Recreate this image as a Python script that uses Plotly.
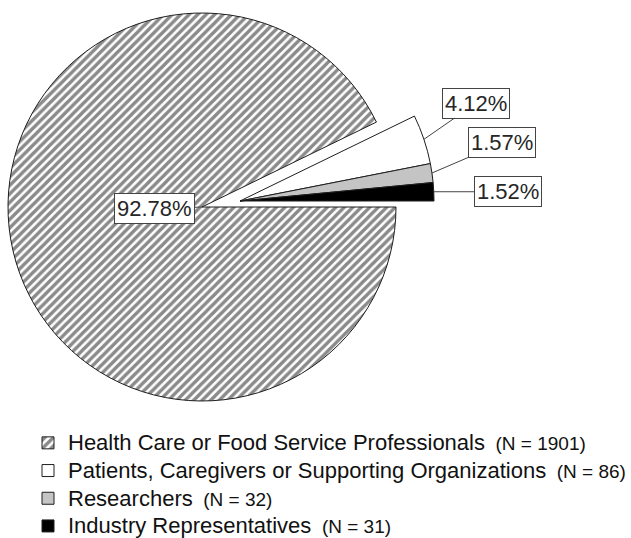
import math
import plotly.graph_objects as go

# ---- data ----
categories = [
    "Health Care or Food Service Professionals",
    "Patients, Caregivers or Supporting Organizations",
    "Researchers",
    "Industry Representatives",
]
counts = [1901, 86, 32, 31]
percents = [92.78, 4.12, 1.57, 1.52]

# ---- styles ----
W, H = 631, 538
CX, CY, R = 202, 207, 194          # pie centre / radius (px)
EXP_DX, EXP_DY = 38, -6            # offset of the exploded small slices (px)
colors = ["#ffffff", "#ffffff", "#c4c4c4", "#000000"]
FONT = "Liberation Sans, Arial, sans-serif"
EDGE = "#1e1e1e"


def domain(cx, cy, r):
    return dict(x=[(cx - r) / W, (cx + r) / W],
                y=[1 - (cy + r) / H, 1 - (cy - r) / H])


transparent = "rgba(0,0,0,0)"
big_only = [i == 0 for i in range(len(categories))]

legend_labels = [
    f'<span style="font-size:22px">{c}</span>  <span style="font-size:19px">(N = {n})</span>'
    for c, n in zip(categories, counts)
]

common = dict(labels=legend_labels, values=percents, sort=False,
              direction="clockwise", rotation=90, textinfo="none",
              hoverinfo="label+percent")

pattern_shape = ["/" if b else "" for b in big_only]
pattern = dict(shape=pattern_shape, fgcolor="#151515", bgcolor="#ffffff",
               size=6, solidity=0.58, fillmode="overlay")

# legend holder (tiny, hidden at the pie apex)
legend_trace = go.Pie(
    **common, domain=domain(CX, CY, 0.3), showlegend=True,
    marker=dict(colors=colors, pattern=pattern,
                line=dict(color=EDGE, width=1)),
)

# main pie: large hatched slice only
main_trace = go.Pie(
    **common, domain=domain(CX, CY, R), showlegend=False,
    marker=dict(colors=[c if b else transparent for c, b in zip(colors, big_only)],
                pattern=pattern,
                line=dict(color=EDGE, width=[1 if b else 0 for b in big_only])),
)

# exploded small slices
exp_trace = go.Pie(
    **common, domain=domain(CX + EXP_DX, CY + EXP_DY, R), showlegend=False,
    marker=dict(colors=[transparent if b else c for c, b in zip(colors, big_only)],
                line=dict(color=EDGE, width=[0 if b else 1 for b in big_only])),
)

fig = go.Figure([legend_trace, main_trace, exp_trace])

# ---- boxed percentage labels ----
total = sum(percents)
cum = 0.0
angles = []
for p in percents:
    start = cum
    cum += p
    # clockwise from 3 o'clock: angle (deg, counter-clockwise positive)
    mid = -(start + p / 2) / total * 360.0
    angles.append(mid % 360)

label_offsets = [(-48, 2), (52, -36), (70, -30), (74, 0)]
annotations = []
for i, (p, ang) in enumerate(zip(percents, angles)):
    if big_only[i]:
        px, py = CX, CY
    else:
        px = CX + EXP_DX + R * math.cos(math.radians(ang))
        py = CY + EXP_DY - R * math.sin(math.radians(ang))
    ax, ay = label_offsets[i]
    annotations.append(dict(
        x=px / W, y=1 - py / H, xref="paper", yref="paper",
        text=f"{p:.2f}%", showarrow=True, arrowhead=0, arrowwidth=1,
        arrowcolor="#444444", ax=ax, ay=ay, standoff=0,
        font=dict(family=FONT, size=22, color="#262626"),
        bgcolor="#ffffff", bordercolor="#444444", borderwidth=1, borderpad=2,
    ))

fig.update_layout(
    width=W, height=H, margin=dict(l=0, r=0, t=0, b=0, autoexpand=False),
    paper_bgcolor="#ffffff", plot_bgcolor="#ffffff",
    font=dict(family=FONT, color="#111111"),
    annotations=annotations,
    legend=dict(x=28 / W, y=1 - 424 / H, xanchor="left", yanchor="top",
                font=dict(family=FONT, size=19, color="#111111"),
                bgcolor="rgba(0,0,0,0)", itemclick=False, itemdoubleclick=False),
)

fig.write_html("out.html", config={"displayModeBar": False},
               post_script="document.body.style.margin='0';document.body.style.overflow='hidden';")
